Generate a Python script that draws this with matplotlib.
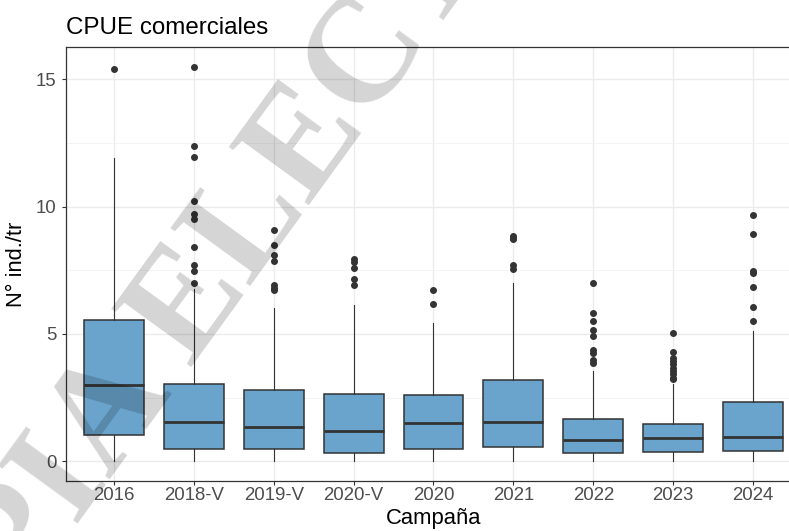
import numpy as np
import matplotlib
matplotlib.use('Agg')
import matplotlib.pyplot as plt
from matplotlib.ticker import MultipleLocator

plt.rcParams['font.family'] = ['Liberation Sans', 'DejaVu Sans']

# Data (box stats per campaign)
campaigns = ['2016', '2018-V', '2019-V', '2020-V', '2020', '2021', '2022', '2023', '2024']
q1 = [1.02, 0.48, 0.48, 0.33, 0.48, 0.58, 0.31, 0.37, 0.40]
med = [2.98, 1.54, 1.35, 1.17, 1.50, 1.56, 0.85, 0.90, 0.95]
q3 = [5.56, 3.05, 2.79, 2.66, 2.60, 3.18, 1.65, 1.45, 2.34]
whislo = [0, 0, 0, 0, 0, 0, 0, 0, 0]
whishi = [11.92, 6.75, 6.03, 6.15, 5.45, 7.02, 3.55, 3.02, 5.12]
fliers = [
    [15.43],
    [15.5, 12.37, 11.94, 10.21, 9.71, 9.53, 8.43, 7.73, 7.47, 7.02],
    [9.08, 8.48, 8.09, 7.87, 6.91, 6.82, 6.73],
    [7.93, 7.83, 7.60, 7.18, 6.94],
    [6.74, 6.18],
    [8.85, 8.78, 8.72, 7.73, 7.57],
    [7.0, 5.82, 5.52, 5.14, 4.92, 4.36, 4.27, 3.97, 3.87],
    [5.05, 4.31, 4.07, 3.94, 3.81, 3.68, 3.55, 3.42, 3.29, 3.22],
    [9.66, 8.91, 7.47, 7.38, 6.86, 6.07, 5.52],
]

stats = []
for i in range(len(campaigns)):
    stats.append(dict(q1=q1[i], med=med[i], q3=q3[i], whislo=whislo[i],
                      whishi=whishi[i], fliers=fliers[i], label=campaigns[i]))

fig = plt.figure(figsize=(7.89, 5.31), dpi=100)
ax = fig.add_axes([66 / 789, 1 - 481 / 531, (801 - 66) / 789, (481 - 47) / 531])

edge = '#333333'
ax.bxp(stats, positions=np.arange(1, 10), widths=0.75, patch_artist=True,
       showcaps=False,
       boxprops=dict(facecolor='#6aa4cc', edgecolor=edge, linewidth=1.1),
       medianprops=dict(color=edge, linewidth=2.0),
       whiskerprops=dict(color=edge, linewidth=0.8),
       flierprops=dict(marker='o', markerfacecolor=edge, markeredgecolor=edge,
                       markersize=4, linestyle='none'),
       zorder=3)

ax.set_xlim(0.4, 9.6)
ax.set_ylim(-0.775, 16.275)
ax.yaxis.set_major_locator(MultipleLocator(5))
ax.yaxis.set_minor_locator(MultipleLocator(2.5))
ax.set_xticks(np.arange(1, 10))
ax.set_xticklabels(campaigns)

ax.grid(True, which='major', color='#EBEBEB', linewidth=1.0, zorder=0)
ax.grid(True, which='minor', axis='y', color='#F2F2F2', linewidth=0.6, zorder=0)
ax.set_axisbelow(True)
for s in ax.spines.values():
    s.set_color(edge)
    s.set_linewidth(0.9)

ax.tick_params(axis='both', which='major', length=3, width=0.8, color=edge,
               labelsize=13.4, labelcolor='#4D4D4D')
ax.tick_params(axis='x', pad=1.5)
ax.tick_params(axis='y', pad=4)
ax.tick_params(which='minor', length=0)

ax.set_ylabel('N° ind./tr', fontsize=15.8, color='black', labelpad=6)
ax.set_xlabel('Campaña', fontsize=15.8, color='black', labelpad=3)
fig.text(66 / 789, 1 - 34 / 531, 'CPUE comerciales', fontsize=17.4,
         color='black', va='baseline', ha='left')

# watermark over the plot
fig.text(-0.178, -0.435, 'COPIA ELECTRÓNICA', fontsize=108, fontweight='bold',
         family=['Liberation Serif', 'DejaVu Serif'], color='black', alpha=0.17,
         rotation=54, rotation_mode='anchor', ha='left', va='center', zorder=10)

fig.savefig('out.png', dpi=100)
